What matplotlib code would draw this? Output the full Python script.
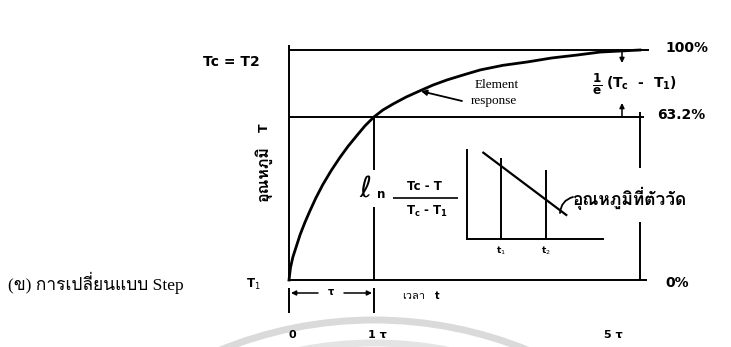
import numpy as np
import matplotlib
matplotlib.use("Agg")
import matplotlib.pyplot as plt
from matplotlib import font_manager
from matplotlib.ft2font import FT2Font
from matplotlib.transforms import blended_transform_factory
from matplotlib.patches import Circle

# ---- step response of a first-order element (time in tau, response in % of Tc - T1)
time_tau = [0, 0.01, 0.03, 0.10, 0.15, 0.20, 0.27, 0.35, 0.45, 0.56, 0.66, 0.78,
            0.88, 1.0, 1.12, 1.26, 1.44, 1.63, 1.82, 2.02, 2.26, 2.51, 2.85,
            3.22, 3.60, 4.0, 4.36, 4.68, 5.0]
response_pct = [0, 2.0, 4.6, 11.5, 15.8, 19.8, 25.2, 30.8, 37.0, 43.2, 48.4, 54.0,
                58.6, 63.2, 66.8, 70.0, 73.7, 77.0, 80.2, 83.0, 85.8, 88.6, 91.2,
                93.1, 95.4, 97.1, 98.8, 99.4, 100.0]

level_pct = [0, 63.2, 100]
level_labels = ["0%", "63.2%", "100%"]
time_marks = [0, 1, 5]
time_labels = ["0", "1 τ", "5 τ"]

# ---- inset: ln[(Tc - T)/(Tc - T1)] against time
inset_time = [0.12, 0.73]
inset_log_ratio = [0.97, 0.27]
inset_marks = [0.25, 0.58]
inset_mark_tops = [0.91, 0.775]
inset_mark_labels = ["t$_1$", "t$_2$"]


def family_with(char, fallback="DejaVu Sans"):
    """First installed font family that has a glyph for `char`."""
    code = ord(char)
    for entry in font_manager.fontManager.ttflist:
        try:
            if code in FT2Font(entry.fname).get_charmap():
                return entry.name
        except Exception:
            continue
    return fallback


THAI = family_with("ก")
SERIF_THAI = ["Liberation Serif", THAI, "DejaVu Sans"]
SANS_THAI = ["DejaVu Sans", THAI]
BOLD = dict(family="DejaVu Sans", weight="bold", color="black")

W, H = 731, 347
fig = plt.figure(figsize=(W / 100, H / 100), dpi=100, facecolor="white")

# faint circular stamp behind the drawing
stamp = fig.add_axes([0, 0, 1, 1], zorder=0)
stamp.set_xlim(0, W)
stamp.set_ylim(H, 0)
stamp.axis("off")
for radius, shade in [(408, "#dadada"), (385, "#e4e4e4")]:
    stamp.add_patch(Circle((374, 728), radius, fill=False, lw=5.0, ec=shade))

# main drawing: compressed (power) scales on both axes
KX, KY = 0.881, 0.749


def fwd_x(t):
    t = np.asarray(t, float)
    return np.sign(t) * np.abs(t) ** KX


def inv_x(u):
    u = np.asarray(u, float)
    return np.sign(u) * np.abs(u) ** (1 / KX)


def fwd_y(p):
    p = np.asarray(p, float)
    return 100 * np.sign(p) * np.abs(p / 100) ** KY


def inv_y(v):
    v = np.asarray(v, float)
    return 100 * np.sign(v) * np.abs(v / 100) ** (1 / KY)


ax = fig.add_axes([0, 0, 1, 1], zorder=1)
ax.set_xscale("function", functions=(fwd_x, inv_x))
ax.set_yscale("function", functions=(fwd_y, inv_y))
X0, XS = 289, 85      # pixel column of t = 0, pixels per scaled time unit
Y0, YS = 280, 2.3     # pixel row of 0 %, pixels per scaled percent unit
ax.set_xlim(float(inv_x(-X0 / XS)), float(inv_x((W - X0) / XS)))
ax.set_ylim(float(inv_y(-(H - Y0) / YS)), float(inv_y(Y0 / YS)))
ax.axis("off")
ax.patch.set_alpha(0)


def fpx(x, y):
    """Pixel position -> axes fraction."""
    return x / W, 1 - y / H


A = dict(transform=ax.transAxes)
K = dict(color="black", solid_capstyle="butt")
LW = 1.4

# axis and level lines
ax.plot([0, 0], [0, 103], lw=LW, **K)
for p, t_end in zip(level_pct, [5.12, 5.06, 5.15]):
    ax.plot([0, t_end], [p, p], lw=LW, **K)

# curve
ax.plot(time_tau, response_pct, lw=2.0, color="black", solid_joinstyle="round")

# 1 tau and 5 tau verticals (broken around the labels)
ax.plot([time_marks[1]] * 2, [level_pct[1], 37.3], lw=LW, **K)
ax.plot([time_marks[1]] * 2, [21.6, 0], lw=LW, **K)
ax.plot([time_marks[2]] * 2, [66.0, 38.3], lw=LW, **K)
ax.plot([time_marks[2]] * 2, [15.9, 0], lw=LW, **K)

# time bracket below the axis
bx = blended_transform_factory(ax.transData, ax.transAxes)
for t in time_marks[:2]:
    ax.plot([t, t], [1 - 288 / H, 1 - 313 / H], transform=bx, lw=LW, **K)
arrow = dict(arrowstyle="-|>", lw=1.1, color="black", mutation_scale=7,
             shrinkA=0, shrinkB=0)
ax.annotate("", xy=fpx(291, 293), xytext=fpx(318, 293), xycoords="axes fraction",
            textcoords="axes fraction", arrowprops=arrow)
ax.annotate("", xy=fpx(372, 293), xytext=fpx(344, 293), xycoords="axes fraction",
            textcoords="axes fraction", arrowprops=arrow)
ax.text(*fpx(331, 292), "τ", ha="center", va="center", fontsize=7, **BOLD, **A)

for label, x in zip(time_labels, [292, 377, 613]):
    ax.text(*fpx(x, 335), label, ha="center", va="center", fontsize=8, **BOLD, **A)

ax.text(*fpx(414, 296), "เวลา", ha="center", va="center", fontsize=8,
        family=SANS_THAI, **A)
ax.text(*fpx(437, 296), "t", ha="center", va="center", fontsize=7, **BOLD, **A)

# level labels
for label, (x, y) in zip(level_labels, [(665, 283), (657, 115), (665, 48)]):
    ax.text(*fpx(x, y), label, ha="left", va="center", fontsize=10, **BOLD, **A)

ax.text(*fpx(231, 62), "Tc = T2", ha="center", va="center", fontsize=10, **BOLD, **A)
ax.text(*fpx(253, 284), "T$_1$", ha="center", va="center", fontsize=8.5, **BOLD, **A)

# y label
ax.text(*fpx(264, 128), "T", rotation=90, ha="center", va="center",
        fontsize=9, **BOLD, **A)
ax.text(*fpx(263, 174), "อุณหภูมิ", rotation=90, ha="center", va="center",
        fontsize=11.5, weight="bold", family=SANS_THAI, **A)

# element response pointer
ax.text(*fpx(475, 85), "Element", ha="left", va="center", fontsize=9.5,
        family="Liberation Serif", **A)
ax.text(*fpx(471, 101), "response", ha="left", va="center", fontsize=9.5,
        family="Liberation Serif", **A)
ax.annotate("", xy=(time_tau[17], response_pct[17]), xycoords="data",
            xytext=fpx(462, 101), textcoords="axes fraction",
            arrowprops=dict(arrowstyle="-|>", lw=1.3, color="black",
                            mutation_scale=8, shrinkA=0, shrinkB=1))

# 1/e (Tc - T1) gap marker
ax.annotate("", xy=fpx(622, 63), xytext=fpx(622, 51), xycoords="axes fraction",
            textcoords="axes fraction", arrowprops=arrow)
ax.annotate("", xy=fpx(622, 103), xytext=fpx(622, 116), xycoords="axes fraction",
            textcoords="axes fraction", arrowprops=arrow)
ax.text(*fpx(597, 84), r"$\mathbf{\frac{1}{e}}$", ha="center", va="center",
        fontsize=12.5, **A)
ax.text(*fpx(606, 83), r"(T$_\mathbf{c}$  -  T$_\mathbf{1}$)", ha="left", va="center",
        fontsize=10, **BOLD, **A)

# ln (Tc - T)/(Tc - T1)
ax.text(*fpx(365, 189), r"$\ell$", ha="center", va="center", fontsize=21, **A)
ax.text(*fpx(381, 194), "n", ha="center", va="center", fontsize=8.5, **BOLD, **A)
ax.text(*fpx(424, 186), "Tc - T", ha="center", va="center", fontsize=8.5, **BOLD, **A)
ax.plot([393 / W, 458 / W], [1 - 198 / H] * 2, lw=1.2, **K, **A)
ax.text(*fpx(427, 211), r"T$_\mathbf{c}$ - T$_\mathbf{1}$", ha="center", va="center",
        fontsize=8.5, **BOLD, **A)

# inset sketch
ins = fig.add_axes([467 / W, 1 - 239 / H, 136 / W, 89 / H], zorder=2)
ins.set_xlim(0, 1)
ins.set_ylim(0, 1)
ins.patch.set_alpha(0)
for side in ["top", "right"]:
    ins.spines[side].set_visible(False)
for side in ["left", "bottom"]:
    ins.spines[side].set_linewidth(LW)
ins.set_xticks([])
ins.set_yticks([])
ins.plot(inset_time, inset_log_ratio, lw=1.6, color="black", clip_on=False)
ix = blended_transform_factory(ins.transData, ins.transAxes)
for t, top, label in zip(inset_marks, inset_mark_tops, inset_mark_labels):
    ins.plot([t, t], [0, top], lw=LW, **K, clip_on=False)
    ins.text(t, -0.13, label, transform=ix, ha="center", va="center",
             fontsize=6.5, **BOLD)

ax.text(*fpx(572, 198), "อุณหภูมิที่ตัววัด", ha="left", va="center", fontsize=12.5,
        weight="bold", family=SANS_THAI, **A)
ax.annotate("", xy=fpx(560, 213), xytext=fpx(573, 197), xycoords="axes fraction",
            textcoords="axes fraction",
            arrowprops=dict(arrowstyle="-", lw=1.3, color="black",
                            connectionstyle="arc3,rad=0.35", shrinkA=0, shrinkB=0))

# caption on the left
ax.text(*fpx(8, 283), "(ข) การเปลี่ยนแบบ Step", ha="left", va="center",
        fontsize=12.5, family=SERIF_THAI, **A)

fig.savefig("out.png", dpi=100, facecolor="white")
